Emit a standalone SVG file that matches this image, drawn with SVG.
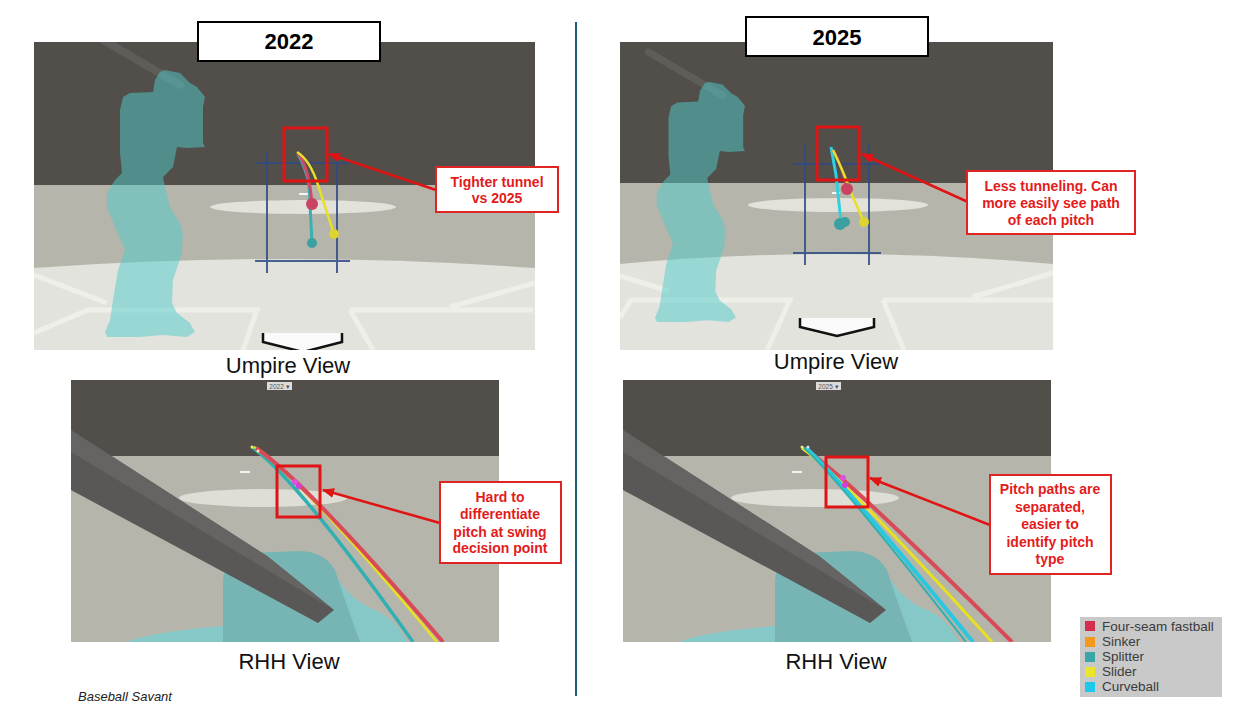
<svg xmlns="http://www.w3.org/2000/svg" width="1244" height="710" viewBox="0 0 1244 710">
<style>
text{font-family:"Liberation Sans",Arial,sans-serif}
.lbl{font-size:22px;fill:#111;text-anchor:middle}
.title{font-size:22px;font-weight:bold;fill:#000;text-anchor:middle}
.call{font-size:14px;font-weight:bold;fill:#e31b1b;text-anchor:middle}
.cbox{fill:#fff;stroke:#e02424;stroke-width:2}
.tbox{fill:#fff;stroke:#000;stroke-width:2}
.hl{fill:none;stroke:#e01414;stroke-width:3}
.arr{stroke:#e01414;stroke-width:2.5;fill:none}
.sz{stroke:#2f4a86;stroke-width:2;opacity:.85}
.chalk{stroke:#efefea;stroke-width:5;fill:none}
.leg{font-size:13.5px;fill:#3b3b3b}
.dd{font-size:6.5px;fill:#555;text-anchor:middle}
</style>
<defs>
<clipPath id="c1"><rect x="34" y="42" width="501" height="308"/></clipPath>
<clipPath id="c2"><rect x="620" y="42" width="433" height="308"/></clipPath>
<clipPath id="c3"><rect x="71" y="380" width="428" height="262"/></clipPath>
<clipPath id="c4"><rect x="623" y="380" width="428" height="262"/></clipPath>
<marker id="ah" markerUnits="userSpaceOnUse" markerWidth="12" markerHeight="10" refX="11" refY="5" orient="auto"><path d="M0,0 L12,5 L0,10 Z" fill="#e01414"/></marker>
<g id="batter">
<line x1="98" y1="37" x2="180" y2="85" stroke="#5f5d5a" stroke-width="8" stroke-linecap="round"/>
<path d="M165,70 L180,73 L190,83 L197,87 L205,97 L203,107 L203,143 L205,147 L187,148 L177,147 L173,167 L163,177 L165,187 L170,207 L180,223 L183,233 L182,253 L173,280 L172,303 L177,313 L190,323 L195,332 L187,337 L163,335 L140,337 L107,337 L105,332 L110,320 L113,300 L118,270 L125,250 L115,227 L107,207 L107,193 L115,180 L122,173 L120,153 L120,110 L123,97 L130,93 L153,92 L155,80 L160,72 Z" fill="#50cccc" fill-opacity="0.5"/>
</g>
<g id="rhhbg">
<rect x="71" y="380" width="428" height="262" fill="#524e49"/>
<rect x="71" y="456" width="428" height="186" fill="#b5b5ab"/>
<ellipse cx="263" cy="498" rx="84" ry="9" fill="#deded6"/>
<rect x="240" y="471" width="10" height="2" fill="#f4f4f4"/>
<path d="M127,642 Q150,632 223,626 L223,642 Z" fill="#86c8c8"/>
<path d="M337,577 Q350,600 375,610 Q395,618 407,642 L340,642 Z" fill="#86c8c8"/>
<path d="M223,642 L223,580 Q225,556 250,553 L300,551 Q325,552 335,570 L345,600 L360,642 Z" fill="#77b5b4"/>
<path d="M71,430 L267,556 L334,610 L318,623 L71,490 Z" fill="#5a5856"/>
<path d="M71,430 L267,556 L334,610 L71,452 Z" fill="#666462"/>
</g>
</defs>

<g id="umpire-2022">
<g clip-path="url(#c1)">
<rect x="34" y="42" width="501" height="308" fill="#524e49"/>
<rect x="34" y="185" width="501" height="165" fill="#b5b5ab"/>
<ellipse cx="303" cy="207" rx="93" ry="7" fill="#e2e2da"/>
<rect x="299" y="193" width="9" height="2" fill="#f4f4f4"/>
<path d="M34,268 Q285,250 535,268 L535,350 L34,350 Z" fill="#e3e3dd"/>
<path class="chalk" d="M34,275 L107,303 M34,333 L88,310 L257,310 L243,350 M350,310 L533,310 M350,310 L373,350 M450,307 L535,283"/>
<path d="M263,333 L342,333 L342,342 L303,352 L263,342 Z" fill="#fafafa"/>
<polyline points="263,333 263,342 303,352 342,342 342,333" fill="none" stroke="#111" stroke-width="2.5"/>
<use href="#batter"/>
<path class="sz" d="M267,152 V273 M337,152 V273 M255,163 H350 M255,261 H350"/>
<path d="M298,154 Q306,168 309,185 L312,243" fill="none" stroke="#3ab0b0" stroke-width="3"/>
<path d="M298,153 Q309,168 312,204" fill="none" stroke="#d04a68" stroke-width="3"/>
<path d="M297,152 Q310,160 318,185 L334,234" fill="none" stroke="#e8e028" stroke-width="2.5"/>
<circle cx="312" cy="204" r="6" fill="#c84462"/>
<circle cx="312" cy="243" r="5" fill="#3aa0a0"/>
<circle cx="334" cy="234" r="5" fill="#dcd430"/>
</g>
</g>

<g id="umpire-2025">
<g clip-path="url(#c2)">
<rect x="620" y="42" width="433" height="308" fill="#524e49"/>
<rect x="620" y="183" width="433" height="167" fill="#b5b5ab"/>
<ellipse cx="838" cy="205" rx="90" ry="7" fill="#e2e2da"/>
<rect x="832" y="192" width="8" height="2" fill="#f4f4f4"/>
<path d="M620,264 Q836,244 1053,264 L1053,350 L620,350 Z" fill="#e3e3dd"/>
<path class="chalk" d="M620,276 L669,291 M620,318 L631,300 L790,300 L767,350 M883,300 L1053,300 M883,300 L904,350 M973,297 L1053,273"/>
<path d="M800,318 L874,318 L874,327 L837,336 L800,327 Z" fill="#fafafa"/>
<polyline points="800,318 800,327 837,336 874,327 874,318" fill="none" stroke="#111" stroke-width="2.5"/>
<use href="#batter" transform="translate(560.5,18.8) scale(0.9)"/>
<path class="sz" d="M805,145 V265 M869,145 V265 M793,164 H881 M793,253 H881"/>
<path d="M831,147 L836,175 L841,222" fill="none" stroke="#30d0e0" stroke-width="3"/>
<path d="M833,150 Q842,165 847,189" fill="none" stroke="#d04a68" stroke-width="2.5"/>
<path d="M833,150 Q845,175 852,195 L864,222" fill="none" stroke="#e8e028" stroke-width="2.5"/>
<circle cx="847" cy="189" r="6" fill="#c84462"/>
<circle cx="845" cy="222" r="5" fill="#3aa0a0"/>
<circle cx="840" cy="224" r="6" fill="#3aa0a0"/>
<circle cx="864" cy="222" r="5" fill="#dcd430"/>
</g>
</g>

<g id="rhh-2022">
<g clip-path="url(#c3)">
<use href="#rhhbg"/>
<path d="M252,447 Q298,480 413,642" fill="none" stroke="#30b0b0" stroke-width="3.5"/>
<path d="M254,447 Q303,480 437,642" fill="none" stroke="#e8e020" stroke-width="2.5"/>
<path d="M256,448 Q306,482 443,642" fill="none" stroke="#d84a58" stroke-width="4"/>
<circle cx="252" cy="447" r="1.5" fill="#e8f080"/>
<circle cx="258" cy="451" r="1.5" fill="#f0f0a0"/>
<circle cx="295" cy="482" r="3" fill="#e050e0"/>
<circle cx="299" cy="486" r="3" fill="#d040d8"/>
</g>
<rect x="267" y="382" width="25" height="8" fill="#dcdcdc"/>
<text class="dd" x="279.5" y="388.5">2022 ▾</text>
</g>

<g id="rhh-2025">
<g clip-path="url(#c4)">
<use href="#rhhbg" transform="translate(552,0)"/>
<path d="M804,448 Q852,482 1012,642" fill="none" stroke="#d84a58" stroke-width="4"/>
<path d="M802,448 Q846,480 992,642" fill="none" stroke="#e8e020" stroke-width="3"/>
<path d="M806,448 Q840,478 973,642" fill="none" stroke="#28c8e0" stroke-width="4"/>
<path d="M804,448 Q836,476 966,642" fill="none" stroke="#30b0b0" stroke-width="2"/>
<circle cx="802" cy="447" r="1.5" fill="#e8f080"/>
<circle cx="808" cy="447" r="1.5" fill="#c0f0f0"/>
<circle cx="843" cy="478" r="3" fill="#e050e0"/>
<circle cx="845" cy="485" r="3" fill="#d040d8"/>
</g>
<rect x="816" y="382" width="25" height="8" fill="#dcdcdc"/>
<text class="dd" x="828.5" y="388.5">2025 ▾</text>
</g>

<g id="highlights">
<rect class="hl" x="284" y="128" width="43" height="53"/>
<rect class="hl" x="817" y="127" width="42" height="53"/>
<rect class="hl" x="277" y="466" width="43" height="51"/>
<rect class="hl" x="826" y="457" width="42" height="50"/>
</g>

<g id="connectors">
<line class="arr" x1="436" y1="190" x2="329" y2="154" marker-end="url(#ah)"/>
<line class="arr" x1="968" y1="202" x2="862" y2="154" marker-end="url(#ah)"/>
<line class="arr" x1="440" y1="523" x2="323" y2="490" marker-end="url(#ah)"/>
<line class="arr" x1="990" y1="525" x2="870" y2="478" marker-end="url(#ah)"/>
</g>

<g id="title-2022">
<rect class="tbox" x="198" y="22" width="182" height="39"/>
<text class="title" x="289" y="49">2022</text>
</g>
<g id="title-2025">
<rect class="tbox" x="746" y="17" width="182" height="39"/>
<text class="title" x="837" y="45">2025</text>
</g>

<g id="callout-1">
<rect class="cbox" x="436" y="167" width="122" height="45"/>
<text class="call" x="497" y="187">Tighter tunnel</text>
<text class="call" x="497" y="203">vs 2025</text>
</g>
<g id="callout-2">
<rect class="cbox" x="967" y="171" width="168" height="63"/>
<text class="call" x="1051" y="191">Less tunneling. Can</text>
<text class="call" x="1051" y="208">more easily see path</text>
<text class="call" x="1051" y="225">of each pitch</text>
</g>
<g id="callout-3">
<rect class="cbox" x="440" y="482" width="121" height="81"/>
<text class="call" x="500" y="502">Hard to</text>
<text class="call" x="500" y="519">differentiate</text>
<text class="call" x="500" y="537">pitch at swing</text>
<text class="call" x="500" y="553">decision point</text>
</g>
<g id="callout-4">
<rect class="cbox" x="990" y="475" width="121" height="99"/>
<text class="call" x="1050" y="494">Pitch paths are</text>
<text class="call" x="1050" y="511.5">separated,</text>
<text class="call" x="1050" y="529">easier to</text>
<text class="call" x="1050" y="546.5">identify pitch</text>
<text class="call" x="1050" y="564">type</text>
</g>

<g id="labels">
<text class="lbl" x="288" y="373">Umpire View</text>
<text class="lbl" x="836" y="369">Umpire View</text>
<text class="lbl" x="289" y="669">RHH View</text>
<text class="lbl" x="836" y="669">RHH View</text>
<text x="78" y="701" font-size="13" font-style="italic" fill="#222">Baseball Savant</text>
</g>

<line id="divider" x1="576" y1="22" x2="576" y2="696" stroke="#1f5a78" stroke-width="2"/>

<g id="legend">
<rect x="1080" y="617" width="142" height="80" fill="#c9c9c9"/>
<rect x="1085" y="621" width="10" height="10" fill="#d42e4c"/>
<rect x="1085" y="637" width="10" height="10" fill="#f39a1e"/>
<rect x="1085" y="652" width="10" height="10" fill="#3aa6a6"/>
<rect x="1085" y="667" width="10" height="10" fill="#ece62a"/>
<rect x="1085" y="682" width="10" height="10" fill="#1ec8ea"/>
<text class="leg" x="1102" y="631">Four-seam fastball</text>
<text class="leg" x="1102" y="646">Sinker</text>
<text class="leg" x="1102" y="661">Splitter</text>
<text class="leg" x="1102" y="676">Slider</text>
<text class="leg" x="1102" y="691">Curveball</text>
</g>
</svg>
